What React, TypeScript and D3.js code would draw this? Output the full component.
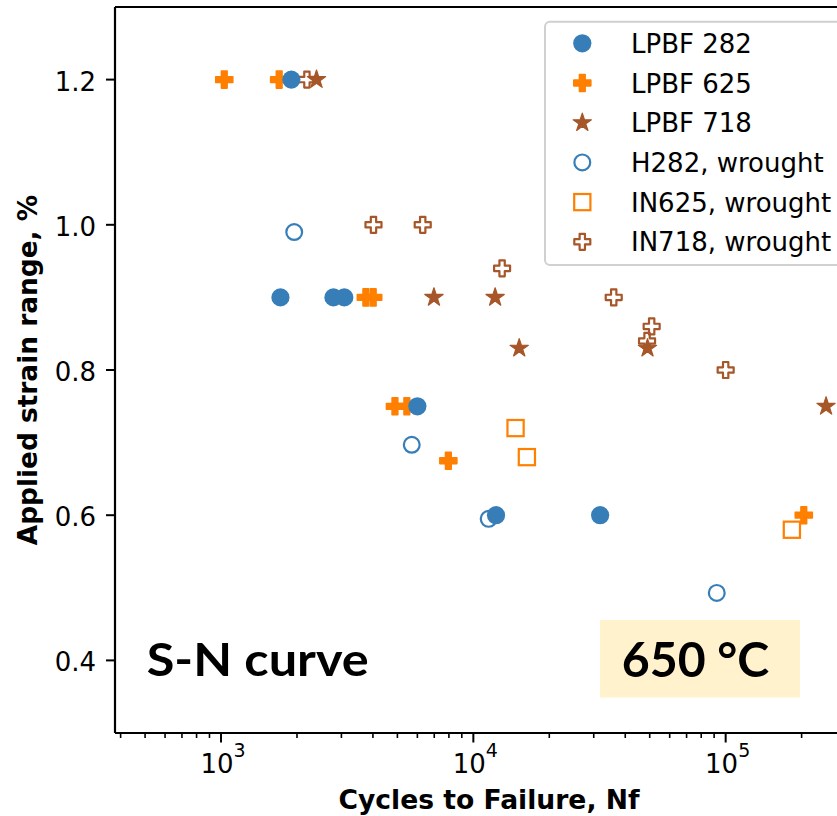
import React from "react";
import * as d3 from "d3";

// ---- data (cycles to failure, applied strain range %) ----
const lpbf282N = [1900, 1720, 2790, 3080, 6000, 12300, 31800];
const lpbf282S = [1.2, 0.9, 0.9, 0.9, 0.75, 0.6, 0.6];

const lpbf625N = [1030, 1700, 3750, 4010, 4890, 5450, 7960, 204000];
const lpbf625S = [1.2, 1.2, 0.9, 0.9, 0.75, 0.75, 0.675, 0.6];

const lpbf718N = [2390, 6980, 12200, 15200, 49000, 250000];
const lpbf718S = [1.2, 0.9, 0.9, 0.83, 0.83, 0.75];

const h282N = [1950, 5700, 11500, 92200];
const h282S = [0.99, 0.697, 0.595, 0.493];

const in625N = [14700, 16300, 183000];
const in625S = [0.72, 0.68, 0.58];

const in718N = [2190, 4020, 6300, 13000, 36000, 50900, 48800, 100000];
const in718S = [1.2, 1.0, 1.0, 0.94, 0.9, 0.86, 0.84, 0.8];

const yTicks = [0.4, 0.6, 0.8, 1.0, 1.2];
const xMajorExp = [3, 4, 5];
const legendLabels = [
  "LPBF 282",
  "LPBF 625",
  "LPBF 718",
  "H282, wrought",
  "IN625, wrought",
  "IN718, wrought",
];

const BLUE = "#377eb8";
const ORANGE = "#ff7f00";
const BROWN = "#a65628";

type Kind = "circle" | "plus" | "star" | "ocircle" | "osquare" | "oplus";

function plusPath(h: number) {
  const a = h / 3;
  const p = d3.path();
  const pts: [number, number][] = [
    [-a, -h], [a, -h], [a, -a], [h, -a], [h, a], [a, a],
    [a, h], [-a, h], [-a, a], [-h, a], [-h, -a], [-a, -a],
  ];
  pts.forEach(([x, y], i) => (i === 0 ? p.moveTo(x, y) : p.lineTo(x, y)));
  p.closePath();
  return p.toString();
}

function starPath(r: number) {
  const p = d3.path();
  for (let i = 0; i < 10; i++) {
    const ang = -Math.PI / 2 + (i * Math.PI) / 5;
    const rr = i % 2 === 0 ? r : r * 0.381966;
    const x = rr * Math.cos(ang);
    const y = rr * Math.sin(ang);
    if (i === 0) p.moveTo(x, y);
    else p.lineTo(x, y);
  }
  p.closePath();
  return p.toString();
}

function Marker({ kind, color, x, y }: { kind: Kind; color: string; x: number; y: number }) {
  const t = `translate(${x},${y})`;
  switch (kind) {
    case "circle":
      return <circle cx={x} cy={y} r={9.1} fill={color} />;
    case "plus":
      return (
        <path d={plusPath(8.5)} transform={t} fill={color} stroke={color} strokeWidth={1.6} strokeLinejoin="round" />
      );
    case "star":
      return <path d={starPath(9.6)} transform={t} fill={color} stroke={color} strokeWidth={1.2} strokeLinejoin="round" />;
    case "ocircle":
      return <circle cx={x} cy={y} r={7.9} fill="none" stroke={color} strokeWidth={2.2} />;
    case "osquare":
      return <rect x={x - 8.1} y={y - 8.1} width={16.2} height={16.2} fill="none" stroke={color} strokeWidth={2.2} />;
    case "oplus":
      return <path d={plusPath(8)} transform={t} fill="none" stroke={color} strokeWidth={2.2} strokeLinejoin="round" />;
  }
  return null;
}

export default function App() {
  const W = 837;
  const H = 816;
  const left = 115;
  const right = 862;
  const top = 7;
  const bottom = 733;

  const x = d3.scaleLog().domain([380, 347000]).range([left, right]);
  const y = d3.scaleLinear().domain([0.3, 1.3]).range([bottom, top]);

  const series: { N: number[]; S: number[]; kind: Kind; color: string }[] = [
    { N: h282N, S: h282S, kind: "ocircle", color: BLUE },
    { N: in625N, S: in625S, kind: "osquare", color: ORANGE },
    { N: in718N, S: in718S, kind: "oplus", color: BROWN },
    { N: lpbf625N, S: lpbf625S, kind: "plus", color: ORANGE },
    { N: lpbf282N, S: lpbf282S, kind: "circle", color: BLUE },
    { N: lpbf718N, S: lpbf718S, kind: "star", color: BROWN },
  ];

  const legendKinds: { kind: Kind; color: string }[] = [
    { kind: "circle", color: BLUE },
    { kind: "plus", color: ORANGE },
    { kind: "star", color: BROWN },
    { kind: "ocircle", color: BLUE },
    { kind: "osquare", color: ORANGE },
    { kind: "oplus", color: BROWN },
  ];

  const [d0, d1] = x.domain();
  const minor: number[] = [];
  for (let e = 2; e <= 5; e++) {
    for (let m = 2; m <= 9; m++) {
      const v = m * Math.pow(10, e);
      if (v >= d0 && v <= d1) minor.push(v);
    }
  }

  const font = "'DejaVu Sans', sans-serif";
  const bigFont = "Lato, 'Open Sans', sans-serif";

  return (
    <svg
      width={W}
      height={H}
      style={{ position: "absolute", left: 0, top: 0, background: "#fff" }}
      fontFamily={font}
    >
      <rect x={0} y={0} width={W} height={H} fill="#fff" />

      {/* data */}
      {series.map((s, si) =>
        s.N.map((n, i) => (
          <Marker key={`${si}-${i}`} kind={s.kind} color={s.color} x={x(n)} y={y(s.S[i])} />
        ))
      )}

      {/* annotation: S-N curve */}
      <text
        x={146.7}
        y={676}
        fontFamily={bigFont}
        fontWeight="bold"
        fontSize={46.5}
        textLength={222}
        lengthAdjust="spacingAndGlyphs"
        fill="#000"
      >
        S-N curve
      </text>

      {/* annotation: 650 °C */}
      <rect x={600} y={620} width={200} height={77.5} fill="#fff2cc" />
      <text
        x={621.7}
        y={677.3}
        fontFamily={bigFont}
        fontWeight="bold"
        fontSize={48}
        textLength={147.6}
        lengthAdjust="spacingAndGlyphs"
        fill="#000"
      >
        650 °C
      </text>

      {/* legend */}
      <rect x={545} y={21.7} width={330} height={243.3} rx={5} fill="#fff" fillOpacity={0.8} stroke="#d0d0d0" strokeWidth={2} />
      {legendLabels.map((lab, i) => {
        const cy = 43.3 + i * 39.7;
        return (
          <g key={lab}>
            <Marker kind={legendKinds[i].kind} color={legendKinds[i].color} x={582.3} y={cy} />
            <text x={631} y={cy + 9.5} fontSize={26} fill="#000">
              {lab}
            </text>
          </g>
        );
      })}

      {/* axes spines */}
      <line x1={left} x2={left} y1={top} y2={bottom} stroke="#000" strokeWidth={2.2} />
      <line x1={left} x2={right} y1={bottom} y2={bottom} stroke="#000" strokeWidth={2.2} />
      <line x1={left} x2={right} y1={top} y2={top} stroke="#000" strokeWidth={2.2} />
      <line x1={right} x2={right} y1={top} y2={bottom} stroke="#000" strokeWidth={2.2} />

      {/* y ticks */}
      {yTicks.map((t) => (
        <g key={t}>
          <line x1={left - 9} x2={left} y1={y(t)} y2={y(t)} stroke="#000" strokeWidth={2} />
          <text x={96} y={y(t) + 11} textAnchor="end" fontSize={26} fill="#000">
            {t.toFixed(1)}
          </text>
        </g>
      ))}

      {/* x minor ticks */}
      {minor.map((v) => (
        <line key={v} x1={x(v)} x2={x(v)} y1={bottom} y2={bottom + 5} stroke="#000" strokeWidth={1.6} />
      ))}

      {/* x major ticks */}
      {xMajorExp.map((e) => {
        const px = x(Math.pow(10, e));
        return (
          <g key={e}>
            <line x1={px} x2={px} y1={bottom} y2={bottom + 9.5} stroke="#000" strokeWidth={2} />
            <text x={px + 2} y={773} textAnchor="middle" fontSize={26} fill="#000">
              <tspan>10</tspan>
              <tspan dy={-15.7} fontSize={19}>
                {e}
              </tspan>
            </text>
          </g>
        );
      })}

      {/* axis labels */}
      <text x={489} y={809} textAnchor="middle" fontSize={26.6} fontWeight="bold" fill="#000">
        Cycles to Failure, Nf
      </text>
      <text
        transform={`translate(37,${(top + bottom) / 2}) rotate(-90)`}
        textAnchor="middle"
        fontSize={26.4}
        fontWeight="bold"
        fill="#000"
      >
        Applied strain range, %
      </text>
    </svg>
  );
}
